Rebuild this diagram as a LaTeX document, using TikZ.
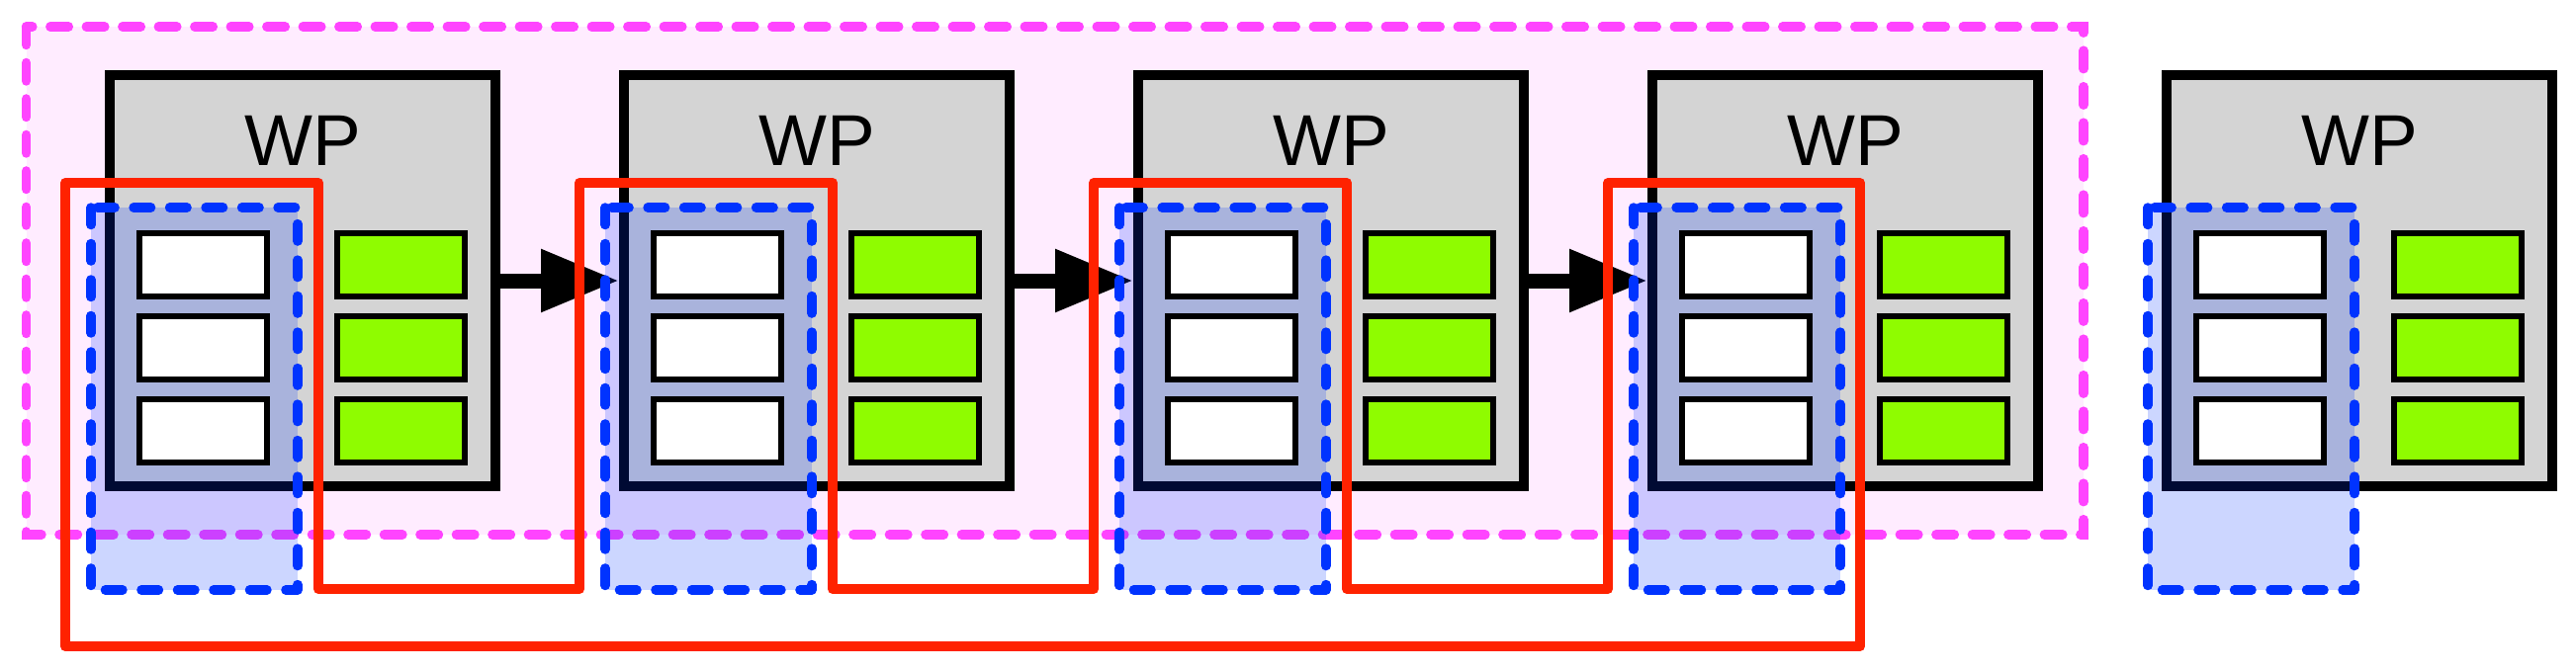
\documentclass[tikz,border=0pt]{standalone}
\usepackage{fontspec}
\setmainfont{Liberation Sans}
\usepackage{tikz}
\usetikzlibrary{arrows.meta}
\definecolor{wpgray}{HTML}{D4D4D4}
\definecolor{slotgreen}{HTML}{8FFC00}
\definecolor{setblue}{HTML}{0033FF}
\definecolor{setred}{HTML}{FF2200}
\definecolor{setpink}{HTML}{FF44FF}

\begin{document}
\begin{tikzpicture}[x=0.1pt, y=-0.1pt,
    wp/.style={draw, line width=1pt, fill=wpgray, inner sep=0pt, minimum width=39pt, minimum height=41.6pt},
    slot/.style={draw, line width=0.6pt, inner sep=0pt, minimum width=12.95pt, minimum height=6.4pt},
    flow/.style={line width=1.5pt, -{Triangle[length=7.9pt, width=6pt]}},
    group/.style={setblue, line width=0.95pt, dash pattern=on 1.75pt off 1.9pt, line cap=round, line join=round, fill=setblue, fill opacity=0.2}]
      \useasboundingbox (0,0) rectangle (2605,679);
      \draw [setpink, line width=0.95pt, dash pattern=on 1.85pt off 1.8pt, line cap=round, fill=setpink, fill opacity=0.1] (26.5,27) rectangle (2107,541);
      \foreach \i/\x in {1/111, 2/631, 3/1151, 4/1671, 5/2191} {
        \node [wp] (W\i) at (\x+195,284) {};
        \node [anchor=base, font=\fontsize{7.3pt}{8pt}\selectfont] (T\i) at (\x+195,168) {WP};
        \foreach \j/\y in {1/268, 2/352, 3/436}
          \node [slot, fill=slotgreen] (G\i\j) at (\x+294.5,\y) {};
      }
      \draw [flow] (W1) -- (W2);
      \draw [flow] (W2) -- (W3);
      \draw [flow] (W3) -- (W4);
      \foreach \i/\x in {1/111, 2/631, 3/1151, 4/1671, 5/2191} {
        \draw [group] (\x-19,210) rectangle (\x+190,597);
        \foreach \j/\y in {1/268, 2/352, 3/436}
          \node [slot, fill=white] (S\i\j) at (\x+94.5,\y) {};
      }
      \draw [setred, line width=1pt, line join=round] (66,185) -- (322,185) -- (322,596) -- (586,596) -- (586,185) -- (842,185) -- (842,596) -- (1106,596) -- (1106,185) -- (1362,185) -- (1362,596) -- (1626,596) -- (1626,185) -- (1881,185) -- (1881,654) -- (66,654) -- cycle;
    \end{tikzpicture}
\end{document}
